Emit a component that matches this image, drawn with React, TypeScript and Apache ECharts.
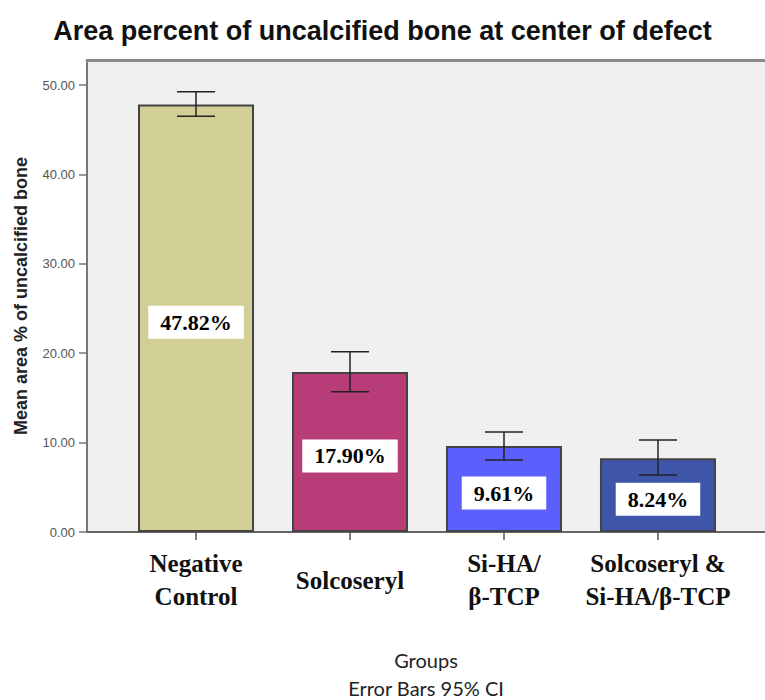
import React, { useEffect, useRef } from "react";
import * as echarts from "echarts";

const categories = ["Negative\nControl", "Solcoseryl", "Si-HA/\nβ-TCP", "Solcoseryl &\nSi-HA/β-TCP"];
const categoryPositions = [0, 1, 2, 3];
const means = [47.82, 17.9, 9.61, 8.24];
const ciLow = [46.5, 15.7, 8.05, 6.38];
const ciHigh = [49.25, 20.17, 11.2, 10.29];
const barColors = ["#d2cf96", "#b83c78", "#5b5ffb", "#3e55aa"];
const yTicks = [0, 10, 20, 30, 40, 50];

const X_MIN = -0.708;
const X_MAX = 3.695;
const Y_MAX = 52.8;

export default function App() {
  const ref = useRef<HTMLDivElement>(null);

  useEffect(() => {
    if (!ref.current) return;
    const chart = echarts.init(ref.current, null, { renderer: "svg" });

    const barData = categoryPositions.map((x, i) => ({
      value: [x, means[i]],
      itemStyle: { color: barColors[i] },
    }));
    const errData = categoryPositions.map((x, i) => [x, ciLow[i], ciHigh[i]]);

    const option: any = {
      animation: false,
      backgroundColor: "#ffffff",
      title: {
        text: "Area percent of uncalcified bone at center of defect",
        left: "center",
        top: 17,
        padding: 0,
        textStyle: {
          fontFamily: "Liberation Sans, Arial, sans-serif",
          fontWeight: "bold",
          fontSize: 27,
          color: "#111",
        },
      },
      grid: {
        left: 87,
        top: 60,
        right: 0,
        bottom: 168,
        show: true,
        backgroundColor: "#f0f0f0",
        borderWidth: 0,
        containLabel: false,
        outerBoundsMode: "none",
      },
      xAxis: [
        {
          type: "value",
          min: X_MIN,
          max: X_MAX,
          position: "bottom",
          splitLine: { show: false },
          axisLine: { show: true, onZero: false, lineStyle: { color: "#666", width: 2 } },
          axisTick: {
            show: true,
            customValues: categoryPositions,
            length: 8,
            lineStyle: { color: "#555", width: 1.5 },
          },
          axisLabel: {
            customValues: categoryPositions,
            formatter: (v: number) => categories[Math.round(v)] ?? "",
            margin: 48,
            verticalAlign: "middle",
            fontFamily: "Liberation Serif, Times New Roman, serif",
            fontWeight: "bold",
            fontSize: 25,
            lineHeight: 33,
            color: "#111",
          },
          name: "Groups\nError Bars 95% CI",
          nameLocation: "middle",
          nameGap: 142,
          nameTextStyle: {
            fontFamily: "Lato, Open Sans, sans-serif",
            fontSize: 20,
            lineHeight: 28,
            verticalAlign: "middle",
            color: "#222",
          },
        },
        {
          type: "value",
          min: X_MIN,
          max: X_MAX,
          position: "top",
          splitLine: { show: false },
          axisLine: { show: true, onZero: false, lineStyle: { color: "#8a8a8a", width: 3 } },
          axisTick: { show: false },
          axisLabel: { show: false },
        },
      ],
      yAxis: {
        type: "value",
        min: 0,
        max: Y_MAX,
        splitLine: { show: false },
        axisLine: { show: true, onZero: false, lineStyle: { color: "#777", width: 2 } },
        axisTick: {
          show: true,
          customValues: yTicks,
          length: 8,
          lineStyle: { color: "#777", width: 1.5 },
        },
        axisLabel: {
          customValues: yTicks,
          formatter: (v: number) => v.toFixed(2),
          margin: 12,
          fontFamily: "Liberation Sans, Arial, sans-serif",
          fontSize: 13,
          color: "#555",
        },
        name: "Mean area % of uncalcified bone",
        nameLocation: "middle",
        nameGap: 57,
        nameTextStyle: {
          fontFamily: "Liberation Sans, Arial, sans-serif",
          fontWeight: "bold",
          fontSize: 18,
          color: "#222",
        },
      },
      series: [
        {
          type: "bar",
          xAxisIndex: 0,
          yAxisIndex: 0,
          barWidth: 116,
          data: barData,
          itemStyle: { borderColor: "#444", borderWidth: 2 },
          label: {
            show: true,
            position: "inside",
            offset: [0, 4],
            formatter: (p: any) => `${p.value[1].toFixed(2)}%`,
            fontFamily: "Liberation Serif, Times New Roman, serif",
            fontWeight: "bold",
            fontSize: 22,
            color: "#000",
            backgroundColor: "#ffffff",
            padding: [6, 12, 5, 12],
          },
          z: 2,
        },
        {
          type: "custom",
          xAxisIndex: 0,
          yAxisIndex: 0,
          data: errData,
          z: 5,
          renderItem: (params: any, api: any) => {
            const x = api.value(0);
            const lo = api.value(1);
            const hi = api.value(2);
            const pTop = api.coord([x, hi]);
            const pBot = api.coord([x, lo]);
            const hw = 19;
            const style = { stroke: "#222", lineWidth: 1.5 };
            return {
              type: "group",
              children: [
                { type: "line", shape: { x1: pTop[0], y1: pTop[1], x2: pBot[0], y2: pBot[1] }, style },
                { type: "line", shape: { x1: pTop[0] - hw, y1: pTop[1], x2: pTop[0] + hw, y2: pTop[1] }, style },
                { type: "line", shape: { x1: pBot[0] - hw, y1: pBot[1], x2: pBot[0] + hw, y2: pBot[1] }, style },
              ],
            };
          },
        },
      ],
    };

    chart.setOption(option);
    return () => chart.dispose();
  }, []);

  return (
    <div
      ref={ref}
      style={{ position: "fixed", left: 0, top: 0, width: 765, height: 700 }}
    />
  );
}
